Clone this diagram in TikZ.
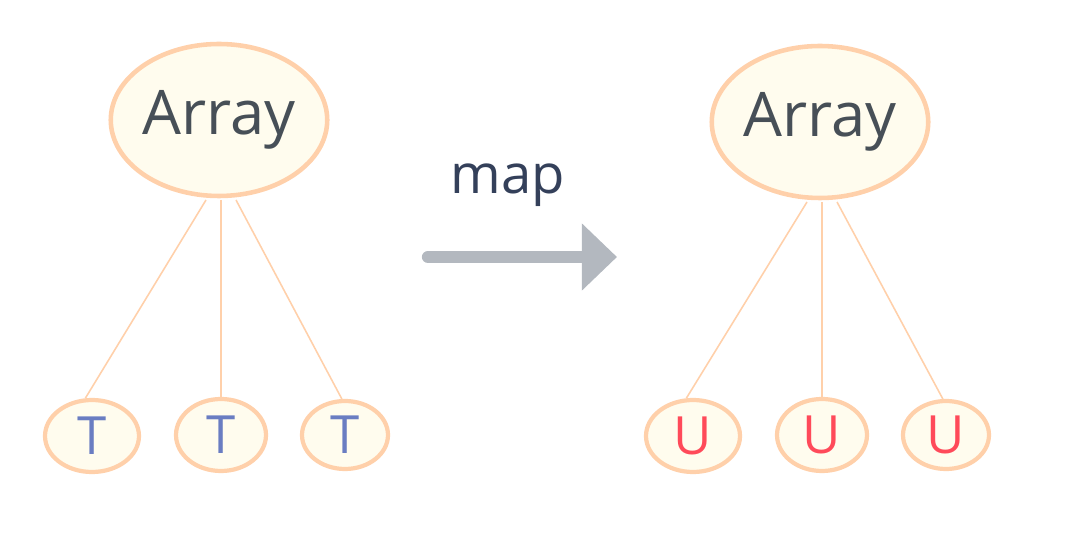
\documentclass[tikz,border=0pt]{standalone}
\usepackage{fontspec}
\setmainfont{Open Sans}
\usetikzlibrary{arrows.meta,shapes.geometric}
\definecolor{fillc}{HTML}{FFFCEE}
\definecolor{edgec}{HTML}{FFD0AA}
\definecolor{txt}{HTML}{474F57}
\definecolor{tblue}{HTML}{6A7DC2}
\definecolor{ured}{HTML}{FF4A5A}
\definecolor{arrc}{HTML}{B3B8BF}
\definecolor{mapc}{HTML}{34405A}
\begin{document}
\begin{tikzpicture}[x=0.02cm,y=-0.02cm,
 big/.style={ellipse,draw=edgec,line width=2.6pt,fill=fillc,minimum width=182*0.02cm,minimum height=152*0.02cm,inner sep=0pt,text=txt,font=\fontsize{35}{38}\selectfont},
 small/.style={ellipse,draw=edgec,line width=2.4pt,fill=fillc,inner sep=0pt,font=\fontsize{30}{32}\selectfont},
 link/.style={draw=edgec,line width=0.9pt}]
\useasboundingbox (0,0) rectangle (1068,543);
\node[big] (a1) at (219,120) {Array};
\node[big] (a2) at (820,122) {Array};
\node[small,text=tblue,minimum width=94*0.02cm,minimum height=72*0.02cm] (t1) at (92,436) {T};
\node[small,text=tblue,minimum width=90*0.02cm,minimum height=72*0.02cm] (t2) at (221,435) {T};
\node[small,text=tblue,minimum width=86*0.02cm,minimum height=68*0.02cm] (t3) at (345,435) {T};
\node[small,text=ured,minimum width=94*0.02cm,minimum height=72*0.02cm] (u1) at (693,436) {U};
\node[small,text=ured,minimum width=90*0.02cm,minimum height=72*0.02cm] (u2) at (822,435) {U};
\node[small,text=ured,minimum width=86*0.02cm,minimum height=68*0.02cm] (u3) at (946,435) {U};
\coordinate (s1) at (206,200); \coordinate (s2) at (221,200); \coordinate (s3) at (236,200);
\coordinate (r1) at (807,202); \coordinate (r2) at (822,202); \coordinate (r3) at (837,202);
\draw[link] (s1) -- (t1.100); \draw[link] (s2) -- (t2.north); \draw[link] (s3) -- (t3.95);
\draw[link] (r1) -- (u1.100); \draw[link] (r2) -- (u2.north); \draw[link] (r3) -- (u3.95);
\coordinate (p) at (428,257); \coordinate (q) at (617,257);
\draw[arrc,line width=7pt,line cap=round,-{Triangle[length=20pt,width=37pt]}] (p) -- (q);
\node[text=mapc,font=\fontsize{31}{33}\selectfont] (m) at (508,185) {map};
\end{tikzpicture}
\end{document}
